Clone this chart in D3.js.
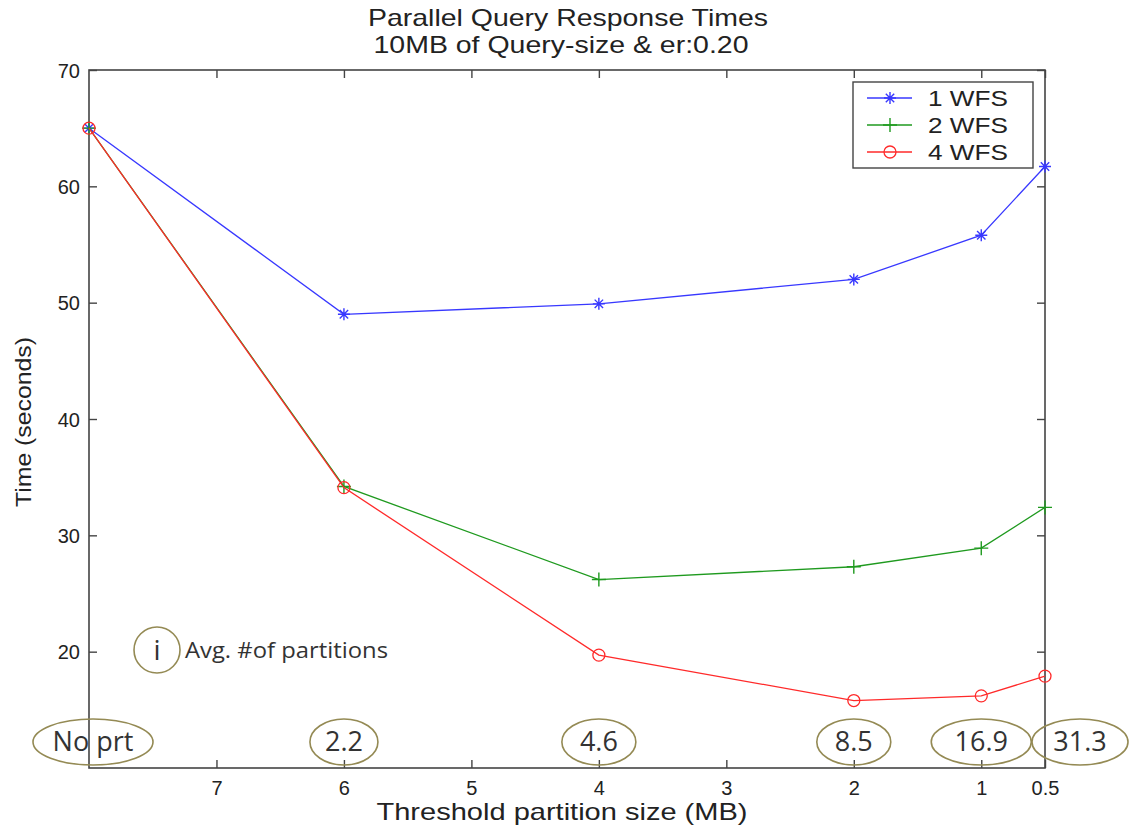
<!DOCTYPE html>
<html>
<head>
<meta charset="utf-8">
<script src="https://cdn.jsdelivr.net/npm/d3@7"></script>
<style>
  body { margin: 0; background: #fff; }
  text { font-family: "Liberation Sans", Arial, sans-serif; }
</style>
</head>
<body>
<script>
// threshold partition sizes (MB), x axis
const thresholds = [8, 6, 4, 2, 1, 0.5]
const xTicks = [7, 6, 5, 4, 3, 2, 1, 0.5]
const yTicks = [20, 30, 40, 50, 60, 70]

// response times (seconds)
const wfs1 = [65, 49.0, 49.9, 52.0, 55.8, 61.7]
const wfs2 = [65, 34.2, 26.2, 27.3, 28.9, 32.4]
const wfs4 = [65, 34.1, 19.7, 15.8, 16.2, 17.9]

const seriesNames = ['1 WFS', '2 WFS', '4 WFS']
const seriesColors = ['#3838ff', '#1f9a1f', '#ff2a2a']
const seriesMarkers = ['star', 'plus', 'circle']

// avg # of partitions, one per threshold
const partitionLabels = ['No prt', '2.2', '4.6', '8.5', '16.9', '31.3']

const W = 1131, H = 834
const margin = {top: 70, right: 86, bottom: 66, left: 89}

const svg = d3.select('body').append('svg')
    .attr('width', W)
    .attr('height', H)

const xScale = d3.scaleLinear()
    .domain([8, 0.5])
    .range([margin.left, W - margin.right])

const yScale = d3.scaleLinear()
    .domain([10, 70])
    .range([H - margin.bottom, margin.top])

const axisColor = '#444'
const textColor = '#222'
const tickLen = 8

// plot box
svg.append('rect')
    .attr('x', xScale(8))
    .attr('y', yScale(70))
    .attr('width', xScale(0.5) - xScale(8))
    .attr('height', yScale(10) - yScale(70))
    .attr('fill', 'none')
    .attr('stroke', axisColor)
    .attr('stroke-width', 1.6)

// axes, ticks pointing inside (matlab style)
const xAxis = svg.append('g')
    .attr('transform', 'translate(0,' + yScale(10) + ')')
    .call(d3.axisBottom(xScale).tickValues(xTicks).tickFormat(d3.format('')).tickSizeInner(-tickLen).tickSizeOuter(0).tickPadding(12))
svg.append('g')
    .attr('transform', 'translate(0,' + yScale(70) + ')')
    .call(d3.axisTop(xScale).tickValues(xTicks).tickSizeInner(-tickLen).tickSizeOuter(0).tickFormat(''))
const yAxis = svg.append('g')
    .attr('transform', 'translate(' + xScale(8) + ',0)')
    .call(d3.axisLeft(yScale).tickValues(yTicks).tickSizeInner(-tickLen).tickSizeOuter(0).tickPadding(9))
svg.append('g')
    .attr('transform', 'translate(' + xScale(0.5) + ',0)')
    .call(d3.axisRight(yScale).tickValues(yTicks).tickSizeInner(-tickLen).tickSizeOuter(0).tickFormat(''))

svg.selectAll('.domain').remove()
svg.selectAll('.tick line').attr('stroke', axisColor).attr('stroke-width', 1.4)
svg.selectAll('.tick text')
    .attr('fill', textColor)
    .style('font-size', '20px')
    .style('font-family', '"Liberation Sans", Arial, sans-serif')
xAxis.selectAll('.tick text').attr('y', 0).attr('dy', 27)
yAxis.selectAll('.tick text').attr('dy', '0.36em')

// titles (source text is a bit stretched horizontally)
function stretchedText(x, y, size, len, str) {
    return svg.append('text')
        .attr('x', x).attr('y', y)
        .attr('text-anchor', 'middle')
        .attr('fill', textColor)
        .attr('textLength', len)
        .attr('lengthAdjust', 'spacingAndGlyphs')
        .style('font-size', size + 'px')
        .text(str)
}
stretchedText(568, 26, 24, 400, 'Parallel Query Response Times')
stretchedText(561, 53, 24, 375, '10MB of Query-size & er:0.20')
stretchedText(562, 820, 24, 371, 'Threshold partition size (MB)')
stretchedText(0, 0, 22, 170, 'Time (seconds)')
    .attr('transform', 'translate(31,422) rotate(-90)')

// marker drawing
function drawMarker(g, type, cx, cy, color) {
    if (type === 'circle') {
        g.append('circle')
            .attr('cx', cx).attr('cy', cy).attr('r', 6)
            .attr('fill', 'none').attr('stroke', color).attr('stroke-width', 1.3)
    } else if (type === 'plus') {
        g.append('path')
            .attr('d', 'M' + (cx - 7) + ',' + cy + 'H' + (cx + 7) + 'M' + cx + ',' + (cy - 7) + 'V' + (cy + 7))
            .attr('stroke', color).attr('stroke-width', 1.4)
    } else {
        const r = 6
        let d = 'M' + (cx - r) + ',' + cy + 'H' + (cx + r) + 'M' + cx + ',' + (cy - r) + 'V' + (cy + r)
        const k = r * 0.7
        d += 'M' + (cx - k) + ',' + (cy - k) + 'L' + (cx + k) + ',' + (cy + k)
        d += 'M' + (cx - k) + ',' + (cy + k) + 'L' + (cx + k) + ',' + (cy - k)
        g.append('path').attr('d', d).attr('stroke', color).attr('stroke-width', 1.4)
    }
}

const allSeries = [wfs1, wfs2, wfs4]
const line = d3.line()
    .x((d, i) => xScale(thresholds[i]))
    .y(d => yScale(d))

allSeries.forEach((vals, s) => {
    const g = svg.append('g')
    g.append('path')
        .datum(vals)
        .attr('d', line)
        .attr('fill', 'none')
        .attr('stroke', seriesColors[s])
        .attr('stroke-width', 1.3)
    vals.forEach((v, i) => drawMarker(g, seriesMarkers[s], xScale(thresholds[i]), yScale(v), seriesColors[s]))
})

// legend
const legend = svg.append('g')
legend.append('rect')
    .attr('x', 853).attr('y', 82)
    .attr('width', 180).attr('height', 86)
    .attr('fill', '#fff')
    .attr('stroke', axisColor)
    .attr('stroke-width', 1.4)
seriesNames.forEach((name, s) => {
    const ly = 98 + s * 27
    legend.append('line')
        .attr('x1', 867).attr('x2', 912)
        .attr('y1', ly).attr('y2', ly)
        .attr('stroke', seriesColors[s]).attr('stroke-width', 1.3)
    drawMarker(legend, seriesMarkers[s], 890, ly, seriesColors[s])
    legend.append('text')
        .attr('x', 928).attr('y', ly + 8)
        .attr('fill', textColor)
        .attr('textLength', 80)
        .attr('lengthAdjust', 'spacingAndGlyphs')
        .style('font-size', '22px')
        .text(name)
})

// avg # of partitions ellipses
const olive = '#948a54'
const ellipseRx = [60, 34, 37, 37, 50, 48]
const ellipseShift = [4, 0, 0, 0, 0, 35]
partitionLabels.forEach((lab, i) => {
    const cx = xScale(thresholds[i]) + ellipseShift[i]
    svg.append('ellipse')
        .attr('cx', cx).attr('cy', 742)
        .attr('rx', ellipseRx[i]).attr('ry', 23)
        .attr('fill', 'none')
        .attr('stroke', olive)
        .attr('stroke-width', 1.6)
    svg.append('text')
        .attr('x', cx).attr('y', 751)
        .attr('text-anchor', 'middle')
        .attr('fill', '#333')
        .style('font-family', '"Open Sans", "Noto Sans", sans-serif')
        .style('font-size', '27px')
        .text(lab)
})

// annotation key
svg.append('circle')
    .attr('cx', 157).attr('cy', 650).attr('r', 23)
    .attr('fill', 'none')
    .attr('stroke', olive)
    .attr('stroke-width', 1.6)
svg.append('text')
    .attr('x', 157).attr('y', 660)
    .attr('text-anchor', 'middle')
    .attr('fill', '#333')
    .style('font-family', '"Open Sans", "Noto Sans", sans-serif')
    .style('font-size', '28px')
    .text('i')
svg.append('text')
    .attr('x', 185).attr('y', 658)
    .attr('fill', '#333')
    .attr('textLength', 203)
    .attr('lengthAdjust', 'spacingAndGlyphs')
    .style('font-family', '"Open Sans", "Noto Sans", sans-serif')
    .style('font-size', '21px')
    .text('Avg. #of partitions')
</script>
</body>
</html>
